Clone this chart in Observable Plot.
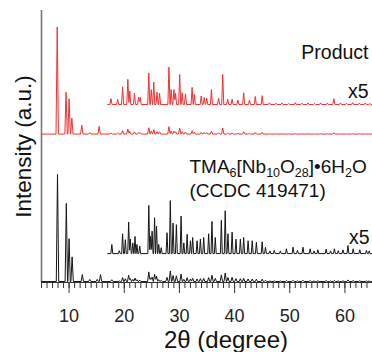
<!DOCTYPE html>
<html><head><meta charset="utf-8">
<script src="https://cdn.jsdelivr.net/npm/d3@7"></script>
<script src="https://cdn.jsdelivr.net/npm/@observablehq/plot@0.6"></script>
<style>html,body{margin:0;padding:0;background:#fff}</style>
</head><body><div id="chart"></div>
<script>
// ---- data ----
const xDomain = [5, 65];
const majorTicks = [10, 20, 30, 40, 50, 60];
const minorTicks = d3.range(5, 66, 1);
const magnification = 5;
const zoomStart = 17;

// Product (experimental, red): peak positions (2θ) and relative intensities (max = 100)
const productPos = [7.85, 9.45, 10.0, 10.5, 12.3, 13.75, 15.45,
  17.6, 18.8, 19.7, 20.65, 21.0, 21.85, 22.6, 22.9, 24.45, 24.9, 25.35, 25.95, 26.4,
  28.1, 28.5, 29.0, 29.3, 30.05, 30.5, 31.1, 32.3, 32.7, 33.95, 34.5, 34.95, 35.8,
  37.1, 37.85, 38.75, 39.55, 40.6, 41.65, 42.7, 43.75, 45.0,
  46.3, 47.5, 48.6, 49.8, 51.0, 52.2, 53.3, 54.5, 55.6, 56.8, 58.0, 59.2, 60.3, 61.4, 62.6, 63.7, 64.5];
const productInt = [100, 39, 33, 15, 8.4, 1.4, 7.2,
  1.1, 0.95, 3.3, 4.7, 2.5, 2.1, 1.4, 1.3, 5.9, 2.8, 4.2, 2.3, 2.1,
  7.0, 2.8, 2.8, 2.1, 5.6, 2.2, 2.0, 3.2, 1.9, 1.6, 1.3, 1.2, 2.8,
  1.2, 5.6, 1.0, 1.0, 0.85, 2.2, 0.85, 1.5, 1.65,
  0.3, 0.25, 0.3, 0.2, 0.35, 0.25, 0.3, 0.2, 0.3, 0.25, 1.1, 0.3, 0.25, 0.35, 0.25, 0.3, 0.2];

// TMA6[Nb10O28]·6H2O (simulated, black)
const simPos = [7.9, 9.5, 10.0, 10.55, 12.4, 13.75, 15.1, 15.7,
  17.75, 19.1, 19.7, 20.2, 20.8, 21.1, 21.55, 21.95, 22.3, 22.8, 24.45, 24.75, 25.05, 25.5, 25.85,
  26.25, 26.7, 27.75, 28.35, 28.85, 29.45, 30.3, 30.8, 31.4, 32.0, 32.4, 33.2, 33.8, 34.4, 35.3,
  35.9, 36.5, 37.6, 38.3, 38.8, 39.55, 40.25, 41.05, 41.65, 42.45, 43.2, 43.95, 45.0, 45.6,
  46.4, 47.2, 48.3, 49.4, 50.6, 51.4, 52.4, 53.7, 54.4, 55.1, 56.6, 57.4, 58.1, 58.8, 59.65,
  60.55, 61.5, 62.7, 63.9, 64.4];
const simInt = [100, 73, 40, 23, 6.5, 2, 2, 6.5,
  1.7, 0.55, 3.7, 2.6, 5.9, 2.7, 2.0, 3.2, 1.7, 1.4, 9.0, 3.2, 4.2, 6.7, 5.1,
  1.7, 1.1, 3.9, 9.9, 5.7, 5.4, 7.0, 2.0, 3.6, 2.4, 3.0, 2.4, 2.7, 3.0, 3.7,
  6.0, 3.0, 6.2, 8.0, 3.7, 4.0, 2.7, 2.7, 3.0, 2.4, 2.4, 2.1, 2.2, 1.2,
  0.5, 0.6, 0.5, 0.9, 1.2, 0.6, 1.2, 0.9, 0.5, 0.7, 0.85, 0.5, 0.9, 0.55, 0.7,
  1.5, 0.9, 0.7, 0.6, 0.5];

// vertical offsets of the stacked traces (same units as intensity)
const offsets = {simMain: 0.9, simZoom: 27, productMain: 138.6, productZoom: 166.2};

// ---- build line vertices from the peak lists (triangular peaks) ----
function profile(pos, inten, w, x0, x1, scale, offset) {
  const xs = new Set([x0, x1]);
  pos.forEach(p => { [p - w, p, p + w].forEach(x => { if (x >= x0 && x <= x1) xs.add(+x.toFixed(4)); }); });
  return [...xs].sort((a, b) => a - b).map(x => {
    let v = 0;
    pos.forEach((p, i) => { const t = 1 - Math.abs(x - p) / w; if (t > 0) v = Math.max(v, inten[i] * t); });
    return {x, y: offset + scale * v};
  });
}
const simMain = profile(simPos, simInt, 0.22, 5, 65, 1, offsets.simMain);
const simZoom = profile(simPos, simInt, 0.17, zoomStart, 65, magnification, offsets.simZoom);
const prodMain = profile(productPos, productInt, 0.22, 5, 65, 1, offsets.productMain);
const prodZoom = profile(productPos, productInt, 0.19, zoomStart, 65, magnification, offsets.productZoom);

const red = "#f23030", black = "#151515";
const font = "Liberation Sans, Arial, sans-serif";

const chart = Plot.plot({
  width: 372, height: 352,
  marginLeft: 41, marginRight: 0, marginTop: 10, marginBottom: 70,
  style: {fontFamily: font, background: "#fff", color: "#222"},
  x: {domain: xDomain, label: null},
  y: {domain: [0, 254], axis: null, label: null},
  marks: [
    Plot.axisX(minorTicks, {tickSize: 6, tickFormat: () => "", stroke: "#333", label: null}),
    Plot.axisX(majorTicks, {tickSize: 11, tickPadding: 16, fontSize: 18, stroke: "#333", fill: "#222", label: null}),
    Plot.ruleY([0], {stroke: "#333", strokeWidth: 1.2}),
    Plot.ruleX([5], {stroke: "#777", strokeWidth: 1.6}),
    Plot.line(simMain, {x: "x", y: "y", stroke: black, strokeWidth: 1}),
    Plot.line(simZoom, {x: "x", y: "y", stroke: black, strokeWidth: 1}),
    Plot.line(prodMain, {x: "x", y: "y", stroke: red, strokeWidth: 1}),
    Plot.line(prodZoom, {x: "x", y: "y", stroke: red, strokeWidth: 1}),
    Plot.text(["Intensity (a.u.)"], {frameAnchor: "left", rotate: -90, dx: -11, lineAnchor: "bottom", textAnchor: "middle", fontSize: 22.5, fill: "#111"}),
    Plot.text(["2θ (degree)"], {frameAnchor: "bottom", dx: 19, dy: 65, lineAnchor: "bottom", textAnchor: "middle", fontSize: 24, fill: "#111"}),
    Plot.text(["Product"], {frameAnchor: "top-right", dx: -4, dy: 48, lineAnchor: "bottom", textAnchor: "end", fontSize: 19.5, fill: "#111"}),
    Plot.text(["x5"], {frameAnchor: "top-right", dx: -4, dy: 87, lineAnchor: "bottom", textAnchor: "end", fontSize: 19.5, fill: "#111"}),
    Plot.text(["TMA6[Nb10O28]•6H2O"], {frameAnchor: "top-left", dx: 148, dy: 162, lineAnchor: "bottom", textAnchor: "start", fontSize: 19, fill: "#111"}),
    Plot.text(["(CCDC 419471)"], {frameAnchor: "top-left", dx: 148, dy: 186, lineAnchor: "bottom", textAnchor: "start", fontSize: 19, fill: "#111"}),
    Plot.text(["x5"], {frameAnchor: "top-right", dx: -3, dy: 233, lineAnchor: "bottom", textAnchor: "end", fontSize: 19.5, fill: "#111"})
  ]
});
document.getElementById("chart").appendChild(chart);

// subscripts in the formula label
d3.select(chart).selectAll("text").filter(function () { return this.textContent === "TMA6[Nb10O28]•6H2O"; })
  .each(function () {
    const t = d3.select(this); t.text(null);
    const parts = [["TMA", 0], ["6", 1], ["[Nb", 0], ["10", 1], ["O", 0], ["28", 1], ["]•6H", 0], ["2", 1], ["O", 0]];
    let shifted = false;
    parts.forEach(([s, sub]) => {
      const sp = t.append("tspan").text(s);
      if (sub) { sp.attr("font-size", "12.5").attr("dy", shifted ? 0 : 4); shifted = true; }
      else { if (shifted) sp.attr("dy", -4); shifted = false; }
    });
  });
</script>
</body></html>
